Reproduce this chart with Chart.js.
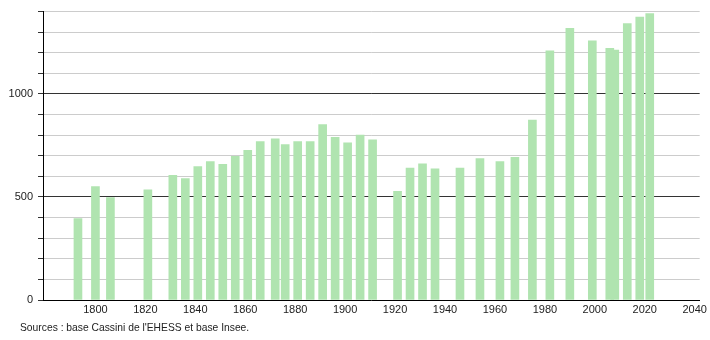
<!DOCTYPE html>
<html>
<head>
<meta charset="utf-8">
<script src="https://cdn.jsdelivr.net/npm/chart.js@4/dist/chart.umd.min.js"></script>
<style>
  body { margin: 0; background: #fff; }
  #wrap { position: relative; width: 710px; height: 340px; }
  #source { position: absolute; left: 20px; top: 322px; font: 10.3px "Liberation Sans", Arial, sans-serif; color: #222; }
</style>
</head>
<body>
<div id="wrap">
  <canvas id="pop-chart" width="710" height="340"></canvas>
  <div id="source">Sources : base Cassini de l'EHESS et base Insee.</div>
</div>
<script>
// recensements (année, population)
const years = [1793, 1800, 1806, 1821, 1831, 1836, 1841, 1846, 1851, 1856,
               1861, 1866, 1872, 1876, 1881, 1886, 1891, 1896, 1901, 1906,
               1911, 1921, 1926, 1931, 1936, 1946, 1954, 1962, 1968, 1975,
               1982, 1990, 1999, 2006, 2008, 2013, 2018, 2022];
const population = [395, 551, 497, 535, 605, 589, 648, 672, 658, 698,
                    726, 769, 782, 755, 769, 769, 851, 790, 763, 801,
                    777, 527, 640, 661, 637, 640, 687, 672, 693, 874,
                    1209, 1319, 1258, 1222, 1213, 1342, 1374, 1390];
const xLabels = [1800, 1820, 1840, 1860, 1880, 1900, 1920, 1940, 1960, 1980, 2000, 2020, 2040];
const yLabels = [0, 500, 1000];

const ctx = document.getElementById('pop-chart');
new Chart(ctx.getContext('2d'), {
    type: 'bar',
    data: {
        datasets: [{
            data: years.map((y, i) => ({ x: y, y: population[i] })),
            backgroundColor: '#b0e4b0',
            borderWidth: 0,
            barThickness: 8,
        }]
    },
    options: {
        responsive: false,
        animation: false,
        layout: { padding: { top: 10, right: 10, bottom: 18, left: 0 } },
        scales: {
            x: {
                type: 'linear',
                offset: false,
                min: 1779,
                max: 2042,
                afterBuildTicks: s => { s.ticks = xLabels.map(v => ({ value: v })); },
                afterFit: s => { s.height = 22; },
                grid: { display: false, drawTicks: false, offset: false },
                border: { display: true, color: '#000', width: 1 },
                ticks: {
                    padding: 3,
                    color: '#222',
                    font: { family: 'Liberation Sans', size: 11 },
                    maxRotation: 0,
                    autoSkip: false,
                    callback: v => String(v),
                },
            },
            y: {
                min: 0,
                max: 1400,
                afterFit: s => { s.width = 43; },
                grid: {
                    color: c => (c.tick && yLabels.includes(c.tick.value) && c.tick.value > 0) ? '#333' : '#ccc',
                    tickColor: '#333',
                    tickLength: 5,
                },
                border: { display: true, color: '#000', width: 1 },
                ticks: {
                    stepSize: 100,
                    padding: 5,
                    color: '#222',
                    font: { family: 'Liberation Sans', size: 11 },
                    callback: v => yLabels.includes(v) ? String(v) : '',
                },
            }
        },
        plugins: { legend: { display: false }, tooltip: { enabled: false } }
    }
});
</script>
</body>
</html>
